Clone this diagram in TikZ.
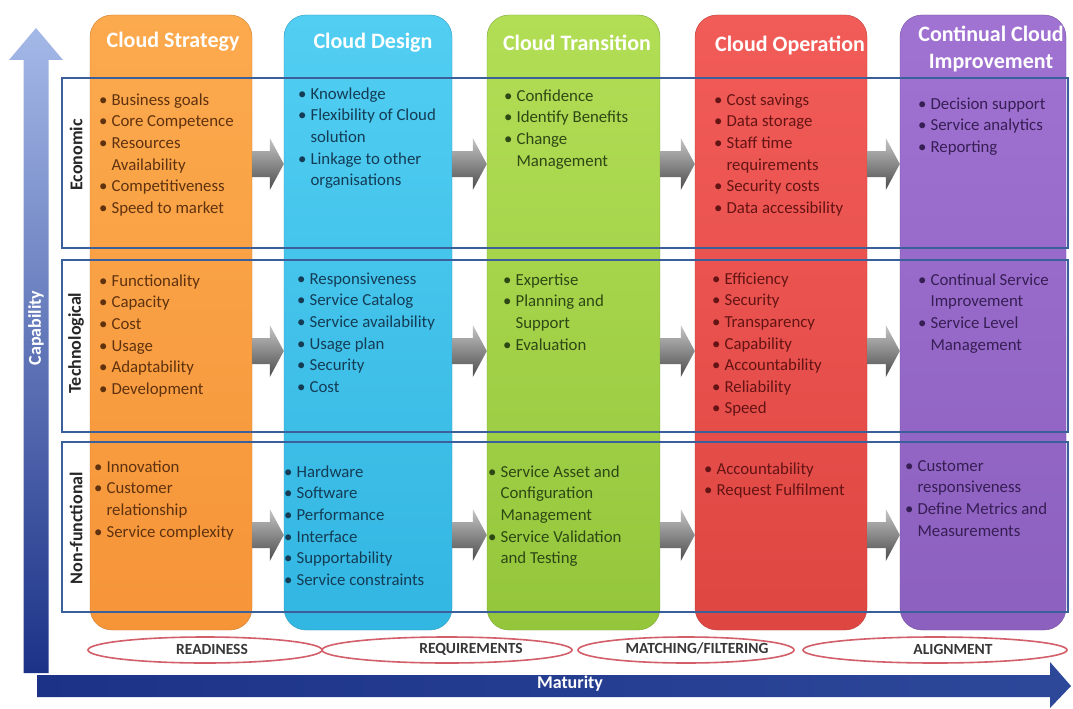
\documentclass[tikz,border=0pt]{standalone}
\usepackage{fontspec}
\setmainfont{Carlito}
\usepackage{tikz}
\usetikzlibrary{positioning,calc,shapes.geometric}
\definecolor{stratorange}{RGB}{246,148,56}
\definecolor{stratlight}{RGB}{252,170,78}
\definecolor{designblue}{RGB}{50,182,226}
\definecolor{designlight}{RGB}{82,206,242}
\definecolor{transgreen}{RGB}{148,198,60}
\definecolor{translight}{RGB}{178,222,86}
\definecolor{operred}{RGB}{222,70,66}
\definecolor{operlight}{RGB}{242,92,88}
\definecolor{imprpurple}{RGB}{140,96,190}
\definecolor{imprlight}{RGB}{160,114,210}
\definecolor{stratink}{RGB}{95,50,15}
\definecolor{designink}{RGB}{20,60,85}
\definecolor{transink}{RGB}{45,72,20}
\definecolor{operink}{RGB}{100,20,20}
\definecolor{imprink}{RGB}{55,30,85}
\definecolor{rowblue}{RGB}{58,95,155}
\definecolor{ringred}{RGB}{210,95,105}
\definecolor{capdark}{RGB}{28,50,135}
\definecolor{caplight}{RGB}{165,185,232}
\definecolor{matmid}{RGB}{115,160,228}
\definecolor{labelgray}{RGB}{55,55,55}
\newcommand{\bu}{\textbullet&}
\tikzset{
  stagecol/.style 2 args={rounded corners=22pt, draw=#2!85!black, top color=#1, bottom color=#2,
                          minimum height=615, inner sep=0},
  stagehead/.style={text=white, font=\fontsize{22}{27}\selectfont\bfseries, align=center},
  rowbox/.style={draw=rowblue, line width=2pt, minimum width=1006, inner sep=0},
  rowlbl/.style={rotate=90, font=\fontsize{18}{20}\selectfont\bfseries, text=black!85},
  stagelist/.style={anchor=north west, inner sep=0, font=\fontsize{16.8}{21.6}\selectfont},
  flowarrow/.style={top color=gray!45, bottom color=black!70},
  stagering/.style={ellipse, draw=ringred, line width=1.6pt, minimum height=26, inner sep=0},
  ringlbl/.style={font=\fontsize{15.5}{18}\selectfont\bfseries, text=labelgray},
  axislbl/.style={text=white, font=\fontsize{18}{20}\selectfont\bfseries}
}

\begin{document}
\begin{tikzpicture}[x=1pt, y=-1pt]
  \useasboundingbox (0,0) rectangle (1073,709);
  \fill[white] (0,0) rectangle (1073,709);

  %% Axes
  % Capability (vertical)
  \shade[top color=caplight, bottom color=capdark]
    (23.5,673) -- (23.5,60) -- (9,60) -- (36,28) -- (63,60) -- (48.5,60) -- (48.5,673) -- cycle;
  \node[axislbl, rotate=90] (capab) at (36,328) {Capability};
  % Maturity (horizontal)
  \shade[left color=capdark, middle color=matmid, right color=capdark!80!matmid]
    (37,675) -- (1050,675) -- (1050,662) -- (1071,686) -- (1050,708) -- (1050,697) -- (37,697) -- cycle;
  \node[axislbl] (matur) at (570,684) {Maturity};

  %% Stage columns
  \foreach \nm/\x/\w/\lt/\dk in {
      strat/171/162/stratlight/stratorange, design/368/168/designlight/designblue,
      trans/573.5/173/translight/transgreen, oper/781/172/operlight/operred,
      impr/983/166/imprlight/imprpurple}{
    \node[stagecol={\lt}{\dk}, minimum width=\w] (\nm) at (\x,322.5) {};
  }

  % Stage titles
  \foreach \nm/\x/\y/\txt in {
      hstrat/173/42/{Cloud Strategy}, hdesign/373/43/{Cloud Design},
      htrans/577/43/{Cloud Transition}, hoper/790/45/{Cloud Operation},
      himpr/991/49/{Continual Cloud\\Improvement}}{
    \node[stagehead] (\nm) at (\x,\y) {\txt};
  }

  %% Rows
  \node[rowbox, minimum height=170] (econ) at (565,163) {};
  \node[rowbox, minimum height=172] (tech) at (565,346) {};
  \node[rowbox, minimum height=170] (nonf) at (565,527) {};
  \node[rowlbl] (lecon) at (76,155) {Economic};
  \node[rowlbl] (ltech) at (76,343) {Technological};
  \node[rowlbl] (lnonf) at (76,528) {Non-functional};

  %% Economic
  \node[stagelist, text=stratink] (e1) at (99,90) {\begin{tabular}{@{}l@{\hspace{4pt}}l@{}}
    \bu Business goals\\ \bu Core Competence\\ \bu Resources\\ & Availability\\
    \bu Competitiveness\\ \bu Speed to market\\ \end{tabular}};
  \node[stagelist, text=designink] (e2) at (298,84) {\begin{tabular}{@{}l@{\hspace{4pt}}l@{}}
    \bu Knowledge\\ \bu Flexibility of Cloud\\ & solution\\ \bu Linkage to other\\
    & organisations\\ \end{tabular}};
  \node[stagelist, text=transink] (e3) at (504,86) {\begin{tabular}{@{}l@{\hspace{4pt}}l@{}}
    \bu Confidence\\ \bu Identify Benefits\\ \bu Change\\ & Management\\ \end{tabular}};
  \node[stagelist, text=operink] (e4) at (714,90) {\begin{tabular}{@{}l@{\hspace{4pt}}l@{}}
    \bu Cost savings\\ \bu Data storage\\ \bu Staff time\\ & requirements\\
    \bu Security costs\\ \bu Data accessibility\\ \end{tabular}};
  \node[stagelist, text=imprink] (e5) at (918,94) {\begin{tabular}{@{}l@{\hspace{4pt}}l@{}}
    \bu Decision support\\ \bu Service analytics\\ \bu Reporting\\ \end{tabular}};

  %% Technological
  \node[stagelist, text=stratink] (t1) at (99,271) {\begin{tabular}{@{}l@{\hspace{4pt}}l@{}}
    \bu Functionality\\ \bu Capacity\\ \bu Cost\\ \bu Usage\\ \bu Adaptability\\
    \bu Development\\ \end{tabular}};
  \node[stagelist, text=designink] (t2) at (297,269) {\begin{tabular}{@{}l@{\hspace{4pt}}l@{}}
    \bu Responsiveness\\ \bu Service Catalog\\ \bu Service availability\\ \bu Usage plan\\
    \bu Security\\ \bu Cost\\ \end{tabular}};
  \node[stagelist, text=transink] (t3) at (503,270) {\begin{tabular}{@{}l@{\hspace{4pt}}l@{}}
    \bu Expertise\\ \bu Planning and\\ & Support\\ \bu Evaluation\\ \end{tabular}};
  \node[stagelist, text=operink] (t4) at (712,269) {\begin{tabular}{@{}l@{\hspace{4pt}}l@{}}
    \bu Efficiency\\ \bu Security\\ \bu Transparency\\ \bu Capability\\
    \bu Accountability\\ \bu Reliability\\ \bu Speed\\ \end{tabular}};
  \node[stagelist, text=imprink] (t5) at (918,270) {\begin{tabular}{@{}l@{\hspace{4pt}}l@{}}
    \bu Continual Service\\ & Improvement\\ \bu Service Level\\ & Management\\ \end{tabular}};

  %% Non-functional
  \node[stagelist, text=stratink] (n1) at (94,457) {\begin{tabular}{@{}l@{\hspace{4pt}}l@{}}
    \bu Innovation\\ \bu Customer\\ & relationship\\ \bu Service complexity\\ \end{tabular}};
  \node[stagelist, text=designink] (n2) at (284,462) {\begin{tabular}{@{}l@{\hspace{4pt}}l@{}}
    \bu Hardware\\ \bu Software\\ \bu Performance\\ \bu Interface\\ \bu Supportability\\
    \bu Service constraints\\ \end{tabular}};
  \node[stagelist, text=transink] (n3) at (488,462) {\begin{tabular}{@{}l@{\hspace{4pt}}l@{}}
    \bu Service Asset and\\ & Configuration\\ & Management\\ \bu Service Validation\\
    & and Testing\\ \end{tabular}};
  \node[stagelist, text=operink] (n4) at (704,459) {\begin{tabular}{@{}l@{\hspace{4pt}}l@{}}
    \bu Accountability\\ \bu Request Fulfilment\\ \end{tabular}};
  \node[stagelist, text=imprink] (n5) at (905,456) {\begin{tabular}{@{}l@{\hspace{4pt}}l@{}}
    \bu Customer\\ & responsiveness\\ \bu Define Metrics and\\ & Measurements\\ \end{tabular}};

  %% Flow arrows between stages
  \coordinate (lvecon) at (0,164);
  \coordinate (lvtech) at (0,351);
  \coordinate (lvnonf) at (0,535);
  \foreach \cA/\cB in {strat/design, design/trans, trans/oper, oper/impr}
    \foreach \rw in {lvecon, lvtech, lvnonf}{
      \shade[flowarrow] ($(\cA.east|-\rw)+(0,-13)$) -- ($(\cB.west|-\rw)+(-14,-13)$)
        -- ($(\cB.west|-\rw)+(-14,-26)$) -- (\cB.west|-\rw) -- ($(\cB.west|-\rw)+(-14,26)$)
        -- ($(\cB.west|-\rw)+(-14,13)$) -- ($(\cA.east|-\rw)+(0,13)$) -- cycle;
    }

  %% Maturity stages
  \node[stagering, minimum width=234] (rready) at (205,650) {};
  \node[stagering, minimum width=250] (rreq) at (447,650) {};
  \node[stagering, minimum width=216] (rmatch) at (686,650) {};
  \node[stagering, minimum width=264] (ralign) at (935,650) {};
  \node[ringlbl] (lready) at (212,649) {READINESS};
  \node[ringlbl] (lreq) at (471,649) {REQUIREMENTS};
  \node[ringlbl] (lmatch) at (697,648) {MATCHING/FILTERING};
  \node[ringlbl] (lalign) at (953,649) {ALIGNMENT};
\end{tikzpicture}
\end{document}
